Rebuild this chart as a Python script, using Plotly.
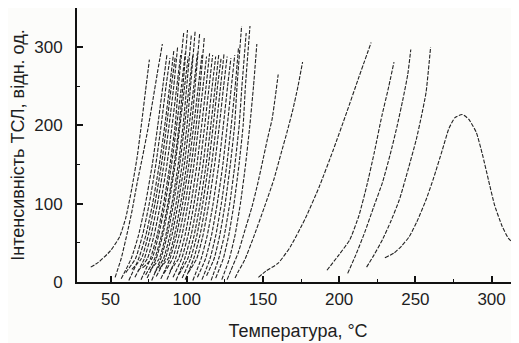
import plotly.graph_objects as go

# ---- isolated curves (temperature, intensity) ----
A_T = [37, 42, 50, 56, 60, 64, 67.5, 70.5, 73, 75.5]
A_I = [19, 25, 40, 58, 82, 120, 160, 205, 245, 284]

B_T = [53, 57, 61, 64, 67.5, 71, 74.5, 78, 81, 84]
B_I = [6, 30, 63, 90, 127, 160, 195, 235, 270, 304]

C1_T = [126.5, 129, 133.7, 138, 142.8, 146.5, 150, 153, 156, 158, 160]
C1_I = [3, 15, 37, 65, 96, 125, 156, 183, 208, 235, 265]

C2_T = [131.7, 134, 138, 144, 151, 157, 162, 166, 169.6, 173, 176]
C2_I = [5, 14, 28, 58, 96, 130, 165, 193, 220, 250, 281]

D_T = [147, 152, 160, 168, 178, 187, 196, 205, 213, 221]
D_I = [6, 14, 24, 45, 82, 122, 168, 217, 262, 306]

E_T = [192, 200, 207, 213, 218, 223, 228, 232, 236]
E_I = [15, 35, 54, 85, 122, 165, 212, 245, 281]

F_T = [205.6, 211, 216.7, 222.5, 228.4, 233.5, 238, 242, 245, 247]
F_I = [11, 35, 63, 95, 127, 163, 199, 235, 265, 297]

G_T = [218, 223, 228.4, 234, 239.5, 245, 250.6, 254, 257, 260]
G_I = [19, 35, 54, 78, 105, 142, 182, 212, 242, 300]

PEAK_T = [230, 236, 241, 246, 251, 257, 262, 267.6, 272, 276, 280.7, 285, 290,
          294, 298, 302, 307, 311, 316, 319]
PEAK_I = [31, 37, 46, 58, 77, 105, 133, 168, 196, 210, 214, 208, 191,
          163, 130, 98, 71, 56, 47, 45]

# ---- dense cluster: start intensity, temperature at fixed levels, end point ----
CLUSTER_START_I = [4, 12, 2, 16, 6, 14, 3, 18, 9, 5, 15, 2, 12, 7, 17, 4,
                   11, 3, 14, 6, 2, 10, 5, 3, 12, 2, 6, 3, 8, 2, 5, 3]
CLUSTER_LEVELS = [30, 60, 100, 150, 200, 250]
CLUSTER_T = [
    [57, 63.6, 68.4, 72.9, 77.4, 81, 84.3],
    [60, 66.4, 71, 75.4, 79.7, 83.2, 86.4],
    [62, 68.5, 73.2, 77.6, 82, 85.6, 88.8],
    [64, 70.3, 74.8, 79.1, 83.4, 86.8, 89.9],
    [66, 72.2, 76.6, 80.8, 85, 88.4, 91.5],
    [68, 74.2, 78.6, 82.8, 87, 90.4, 93.5],
    [70, 76.2, 80.6, 84.8, 89, 92.4, 94.5],
    [71, 77.2, 81.6, 85.8, 90, 93.4, 96.5],
    [73, 79, 83.5, 87.6, 91.7, 95, 97.5],
    [74, 80, 84.3, 88.3, 92.4, 95.6, 98.6],
    [76, 82, 86.3, 90.3, 94.4, 97.6, 100],
    [77, 83, 87.3, 91.3, 95.4, 98.6, 101.6],
    [79, 84.8, 89, 93, 97, 100.2, 102.5],
    [80, 86, 90.3, 94.3, 98.4, 101.6, 104.6],
    [82, 87.8, 92, 96, 100, 103.2, 105.5],
    [83, 89, 93.3, 97.3, 101.4, 104.6, 107.6],
    [85, 90.8, 95, 99, 103, 106.2, 108.8],
    [87, 92.7, 96.9, 100.8, 104.7, 107.8, 110.7],
    [89, 94.7, 98.9, 102.8, 106.7, 109.8, 112.7],
    [91, 96.7, 100.9, 104.8, 108.7, 111.8, 114.7],
    [93, 98.7, 102.9, 106.8, 110.7, 113.8, 116.7],
    [95, 100.7, 104.9, 108.8, 112.7, 115.8, 118.7],
    [97, 102.6, 106.7, 110.5, 114.3, 117.4, 120.2],
    [99, 104.6, 108.7, 112.5, 116.3, 119.4, 122.2],
    [101, 106.6, 110.7, 114.5, 118.3, 121.4, 124.2],
    [104, 109.5, 113.5, 117.3, 121, 124, 126.8],
    [107, 112.4, 116.3, 120, 123.7, 126.6, 129.3],
    [110, 115.3, 119.1, 122.7, 126.3, 129.2, 131.8],
    [113, 118, 121.7, 125.2, 128.6, 131.4, 133],
    [116, 121, 124.7, 128.2, 131.6, 134.4, 136.2],
    [119, 124, 127.6, 131, 134.3, 137, 138.5],
    [123, 128, 131.7, 135.2, 138.6, 141.4, 143.8],
]
CLUSTER_END_T = [87, 89, 91.5, 92.5, 94, 96, 98, 99, 100.5, 101, 103, 104,
                 105.5, 107, 108.5, 110, 111.5, 113, 115, 117, 119, 121,
                 122.5, 124.5, 126.5, 129, 131.5, 134, 136, 139, 141.5, 146]
CLUSTER_END_I = [290, 286, 295, 288, 300, 290, 318, 292, 322, 288, 315, 290,
                 320, 292, 318, 290, 312, 288, 292, 290, 288, 290,
                 285, 292, 288, 286, 290, 300, 327, 318, 327, 304]

X_TICKS = [50, 100, 150, 200, 250, 300]
Y_TICKS = [0, 100, 200, 300]

LINE = dict(color="#222222", width=1.1, dash="4px,1.5px", shape="spline", smoothing=0.5)

fig = go.Figure()


def add(xs, ys):
    fig.add_trace(go.Scatter(x=xs, y=ys, mode="lines", line=LINE,
                             hoverinfo="skip", showlegend=False))


add(A_T, A_I)
add(B_T, B_I)
for y0, row, xe, ye in zip(CLUSTER_START_I, CLUSTER_T, CLUSTER_END_T, CLUSTER_END_I):
    add(row + [xe], [y0] + CLUSTER_LEVELS + [ye])
for xs, ys in [(C1_T, C1_I), (C2_T, C2_I), (D_T, D_I), (E_T, E_I),
               (F_T, F_I), (G_T, G_I), (PEAK_T, PEAK_I)]:
    add(xs, ys)

FONT = "Liberation Sans, Arial, sans-serif"

# the page body adds an 8px offset; figure size/margins compensate for it
fig.update_layout(
    width=511, height=335,
    margin=dict(l=69, r=0, t=0, b=61),
    paper_bgcolor="#fcfcfa", plot_bgcolor="#fcfcfa",
    font=dict(family=FONT, size=17, color="#1e1e1e"),
    xaxis=dict(
        range=[28, 318], tickvals=X_TICKS, ticks="inside", ticklen=6,
        tickwidth=1.5, tickcolor="#111", showline=True, linewidth=2,
        linecolor="#111", showgrid=False, zeroline=False, automargin=False,
        minor=dict(ticks="inside", ticklen=3, tickwidth=1.2, dtick=25,
                   tick0=0, tickcolor="#111", showgrid=False),
        tickfont=dict(size=17), ticklabelstandoff=1,
        title=dict(text="Температура, °C", font=dict(size=18), standoff=16),
    ),
    yaxis=dict(
        range=[0, 350], tickvals=Y_TICKS, ticks="inside", ticklen=6,
        tickwidth=1.5, tickcolor="#111", showline=True, linewidth=2,
        linecolor="#111", showgrid=False, zeroline=False, automargin=False,
        minor=dict(ticks="inside", ticklen=3, tickwidth=1.2, dtick=50,
                   tick0=0, tickcolor="#111", showgrid=False),
        tickfont=dict(size=17), ticklabelstandoff=9,
        title=dict(text="Інтенсивність ТСЛ, відн. од.", font=dict(size=18),
                   standoff=5),
    ),
)

fig.write_html("out.html")
